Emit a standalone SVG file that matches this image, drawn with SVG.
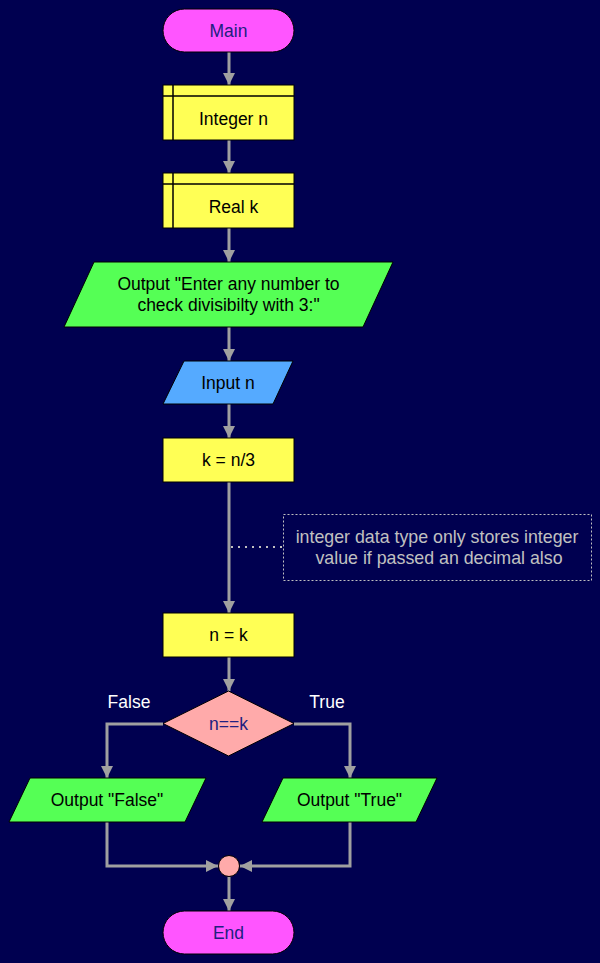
<svg xmlns="http://www.w3.org/2000/svg" width="600" height="963" viewBox="0 0 600 963">
<defs>
<style>
.t{font-family:"Liberation Sans",Arial,sans-serif;font-size:17.5px;text-anchor:middle;dominant-baseline:central;fill:#000}
.term{fill:#ff55ff;stroke:#000;stroke-width:1}
.term-t{fill:#202080}
.proc{fill:#ffff55;stroke:#000;stroke-width:1}
.out{fill:#55ff55;stroke:#000;stroke-width:1}
.in{fill:#55aaff;stroke:#000;stroke-width:1}
.dec{fill:#ffaaaa;stroke:#000;stroke-width:1}
.c{fill:none;stroke:#a0a0a0;stroke-width:3}
.lbl{fill:#ffffff}
.cmt{fill:#c0c0c0;font-size:17.8px}
</style>
<marker id="ah" viewBox="0 0 12 12" refX="12" refY="6" markerWidth="12" markerHeight="12" markerUnits="userSpaceOnUse" orient="auto">
<path d="M0,0 L12,6 L0,12 Z" fill="#a0a0a0"/>
</marker>
</defs>
<rect width="600" height="963" fill="#000050"/>
<g id="connectors">
<path class="c" d="M229,52 V85" marker-end="url(#ah)"/>
<path class="c" d="M229,140 V173" marker-end="url(#ah)"/>
<path class="c" d="M229,228 V262" marker-end="url(#ah)"/>
<path class="c" d="M229,327 V361" marker-end="url(#ah)"/>
<path class="c" d="M229,404 V438" marker-end="url(#ah)"/>
<path class="c" d="M229,482 V613" marker-end="url(#ah)"/>
<path class="c" d="M229,657 V691" marker-end="url(#ah)"/>
<path class="c" d="M163,724 H107 V778" marker-end="url(#ah)"/>
<path class="c" d="M294,724 H350 V778" marker-end="url(#ah)"/>
<path class="c" d="M107,822 V866 H218" marker-end="url(#ah)"/>
<path class="c" d="M350,822 V866 H240" marker-end="url(#ah)"/>
<path class="c" d="M229,877 V911" marker-end="url(#ah)"/>
<path d="M231,547 H283" fill="none" stroke="#c0c0c0" stroke-width="2" stroke-dasharray="2,5"/>
<text class="t lbl" x="129" y="702">False</text>
<text class="t lbl" x="327" y="702">True</text>
</g>
<g id="main">
<rect class="term" x="163" y="9" width="131" height="43" rx="21.5"/>
<text class="t term-t" x="228.5" y="31">Main</text>
</g>
<g id="integer-n">
<rect class="proc" x="163" y="85" width="131" height="55"/>
<path d="M173,85 V140 M163,96 H294" stroke="#000" stroke-width="1.5" fill="none"/>
<text class="t" x="233.5" y="119">Integer n</text>
</g>
<g id="real-k">
<rect class="proc" x="163" y="173" width="131" height="55"/>
<path d="M173,173 V228 M163,184 H294" stroke="#000" stroke-width="1.5" fill="none"/>
<text class="t" x="233.5" y="207">Real k</text>
</g>
<g id="output-prompt">
<polygon class="out" points="94,262 393,262 363,327 64,327"/>
<text class="t" x="228.5" y="284">Output "Enter any number to</text>
<text class="t" x="228.5" y="305">check divisibilty with 3:"</text>
</g>
<g id="input-n">
<polygon class="in" points="184,361 293,361 273,404 163,404"/>
<text class="t" x="228" y="383">Input n</text>
</g>
<g id="k-assign">
<rect class="proc" x="163" y="438" width="131" height="44"/>
<text class="t" x="228.5" y="460">k = n/3</text>
</g>
<g id="comment">
<rect x="283.5" y="514.5" width="308" height="66" fill="none" stroke="#c0c0c0" stroke-width="1" stroke-dasharray="2,2"/>
<text class="t cmt" x="437" y="537">integer data type only stores integer</text>
<text class="t cmt" x="439" y="558">value if passed an decimal also</text>
</g>
<g id="n-assign">
<rect class="proc" x="163" y="613" width="131" height="44"/>
<text class="t" x="228.5" y="635">n = k</text>
</g>
<g id="decision">
<polygon class="dec" points="228.5,691 294,723.5 228.5,756 163,723.5"/>
<text class="t term-t" x="228.5" y="724">n==k</text>
</g>
<g id="output-false">
<polygon class="out" points="30,778 206,778 185,822 9,822"/>
<text class="t" x="107" y="800">Output "False"</text>
</g>
<g id="output-true">
<polygon class="out" points="283,778 437,778 416,822 262,822"/>
<text class="t" x="349.5" y="800">Output "True"</text>
</g>
<g id="junction">
<circle class="dec" cx="229" cy="866" r="10.5"/>
</g>
<g id="end">
<rect class="term" x="163" y="911" width="131" height="43" rx="21.5"/>
<text class="t term-t" x="228.5" y="933">End</text>
</g>
</svg>
